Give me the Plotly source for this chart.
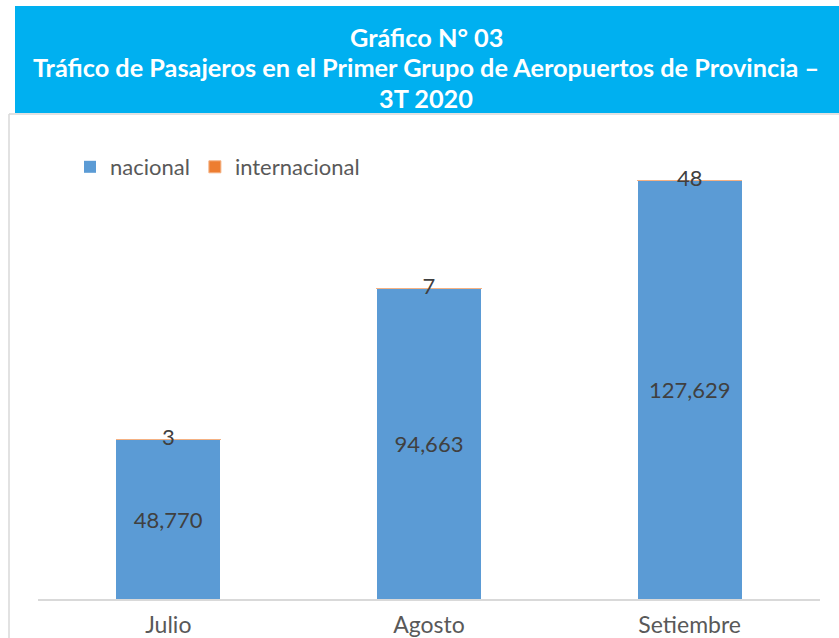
import plotly.graph_objects as go

W, H = 839, 638

months = ["Julio", "Agosto", "Setiembre"]
nacional = [48770, 94663, 127629]
internacional = [3, 7, 48]
totals = [n + i for n, i in zip(nacional, internacional)]

title_lines = [
    "Gráfico N° 03",
    "Tráfico de Pasajeros en el Primer Grupo de Aeropuertos de Provincia –",
    "3T 2020",
]

def px(x):
    return x / W

def py(y):
    return 1 - y / H

fig = go.Figure()
fig.add_trace(go.Bar(
    name="nacional", x=months, y=nacional,
    marker=dict(color="#5B9BD5", line=dict(width=0)),
    text=[f"{v:,}" for v in nacional],
    textposition="inside", insidetextanchor="middle",
    textfont=dict(family="Lato", size=22, color="#404040"),
))
fig.add_trace(go.Bar(
    name="internacional", x=months, y=internacional,
    marker=dict(color="#ED7D31", line=dict(width=1, color="#F4B183")),
))
fig.add_trace(go.Scatter(
    x=months, y=totals, mode="text",
    text=[str(v) for v in internacional],
    textposition="middle center",
    textfont=dict(family="Lato", size=22, color="#404040"),
    showlegend=False, hoverinfo="skip",
))

shapes = [
    dict(type="rect", xref="paper", yref="paper", x0=px(15), x1=px(839), y0=py(113), y1=py(6),
         fillcolor="#00B0F0", line=dict(width=0), layer="below"),
    dict(type="line", xref="paper", yref="paper", x0=px(9), x1=px(9), y0=py(114), y1=0,
         line=dict(color="#D9D9D9", width=1.5)),
    dict(type="line", xref="paper", yref="paper", x0=px(9), x1=1, y0=py(114), y1=py(114),
         line=dict(color="#D9D9D9", width=1.5)),
]

annotations = []
for txt, yy in zip(title_lines, [37, 67, 98]):
    annotations.append(dict(
        text=f"<b>{txt}</b>", xref="paper", yref="paper", x=px(426), y=py(yy),
        xanchor="center", yanchor="middle", showarrow=False,
        font=dict(family="Lato", size=25.3, color="white"),
    ))

fig.update_layout(
    width=W, height=H,
    margin=dict(l=0, r=0, t=0, b=0, autoexpand=False),
    paper_bgcolor="white", plot_bgcolor="white",
    barmode="stack", bargap=0.6,
    showlegend=True,
    legend=dict(orientation="h", x=px(70), y=py(167), xanchor="left", yanchor="middle",
                font=dict(family="Lato", size=22, color="#595959"), bgcolor="rgba(0,0,0,0)",
                traceorder="normal"),
    xaxis=dict(domain=[px(38), px(820)], showline=True, linecolor="#D9D9D9", linewidth=1.5,
               showgrid=False, zeroline=False, ticks="outside", ticklen=5,
               tickcolor="rgba(0,0,0,0)", automargin=False,
               tickfont=dict(family="Lato", size=23, color="#595959")),
    yaxis=dict(domain=[py(599), py(140)], range=[0, 140000], visible=False, showgrid=False,
               automargin=False),
    shapes=shapes, annotations=annotations,
    font=dict(family="Lato"),
)

fig.write_html("out.html", config={"displayModeBar": False},
               post_script="document.body.style.margin='0';")
